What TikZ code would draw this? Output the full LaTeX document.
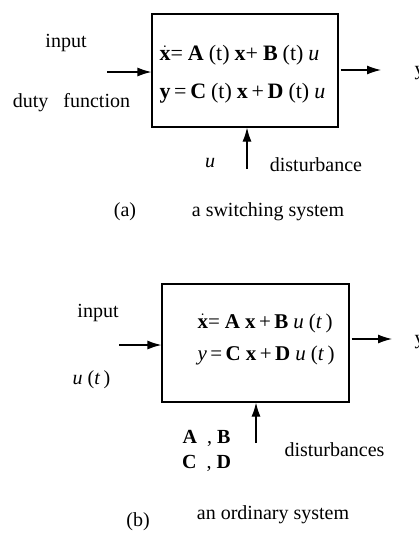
\documentclass[tikz,border=0pt]{standalone}
\usepackage{fontspec}
\setmainfont{Liberation Serif}
\usetikzlibrary{arrows.meta,calc}
\newcommand{\eqgap}{\hspace{5pt}}

\begin{document}
\begin{tikzpicture}[x=1pt,y=-1pt,
  sysbox/.style={draw,line width=1.2pt,inner sep=0pt},
  sig/.style={line width=1.2pt,-{Latex[length=14pt,width=9pt]}},
  eqn/.style={anchor=west,font=\fontsize{22}{26}\selectfont},
  every node/.style={font=\fontsize{20}{24}\selectfont}]
\useasboundingbox (0,0) rectangle (419,536);

\node[sysbox,minimum width=186pt,minimum height=113pt] (boxa) at (245,70.5) {};
\node[eqn] (eqa1) at (156,55) {$\dot{\textbf{x}}$=\eqgap\textbf{A}\eqgap(t)\eqgap\textbf{x}+\eqgap\textbf{B}\eqgap(t)\eqgap\textit{u}};
\node[eqn] (eqa2) at (156,93) {\textbf{y}\,=\,\textbf{C}\eqgap(t)\eqgap\textbf{x}\,+\,\textbf{D}\eqgap(t)\eqgap\textit{u}};

\coordinate (ina) at (107,72);
\coordinate (outa) at (381,70);
\coordinate (dista) at (247,169);
\draw[sig] (ina) -- (ina -| boxa.west);
\draw[sig] ($(outa -| boxa.east)+(2,0)$) -- (outa);
\draw[sig] (dista) -- (dista |- boxa.south);

\node (inputa) at (66,43) {input};
\node (dutya) at (71.5,103) {duty\ \ \ function};
\node[anchor=west] (ya) at (411,73) {y};
\node (ua) at (210,163) {\textit{u}};
\node (disturba) at (316,165) {disturbance};
\node (tagsa) at (125,212) {(a)};
\node (capa) at (268,212) {a switching system};

\node[sysbox,minimum width=187pt,minimum height=118pt] (boxb) at (255.5,343) {};
\node[eqn,font=\fontsize{21}{25}\selectfont] (eqb1) at (194,323) {$\dot{\textbf{x}}$=\eqgap\textbf{A}\eqgap\textbf{x}\,+\,\textbf{B}\eqgap\textit{u}\eqgap(\textit{t}\,)};
\node[eqn,font=\fontsize{21}{25}\selectfont] (eqb2) at (194,355) {\textit{y}\,=\,\textbf{C}\eqgap\textbf{x}\,+\,\textbf{D}\eqgap\textit{u}\eqgap(\textit{t}\,)};

\coordinate (inb) at (119,345);
\coordinate (outb) at (392,339);
\coordinate (distb) at (256,443);
\draw[sig] (inb) -- (inb -| boxb.west);
\draw[sig] ($(outb -| boxb.east)+(2,0)$) -- (outb);
\draw[sig] (distb) -- (distb |- boxb.south);

\node (inputb) at (98,313) {input};
\node (ub) at (91.5,380) {\textit{u}\eqgap(\textit{t}\,)};
\node[anchor=west] (yb) at (411,342) {y};
\node (mab) at (206.5,438) {\textbf{A}\ \ ,\ \textbf{B}};
\node (mcd) at (206.5,463) {\textbf{C}\ \ ,\ \textbf{D}};
\node (disturbb) at (334.5,450) {disturbances};
\node (tagsb) at (138,522) {(b)};
\node (capb) at (273,515) {an ordinary system};

\end{tikzpicture}
\end{document}
